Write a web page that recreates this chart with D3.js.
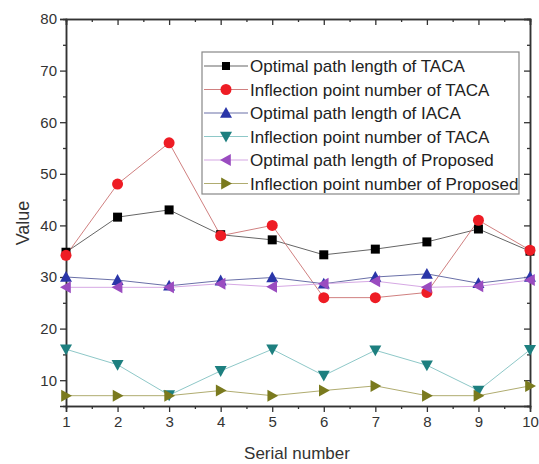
<!DOCTYPE html>
<html>
<head>
<meta charset="utf-8">
<script src="https://cdn.jsdelivr.net/npm/d3@7"></script>
<style>
  body { margin: 0; background: white; }
  text { font-family: "Liberation Sans", Arial, sans-serif; }
</style>
</head>
<body>
<div id="chart"></div>
<script>
// Data
const serial = [1, 2, 3, 4, 5, 6, 7, 8, 9, 10];
const pathTACA = [34.8, 41.6, 43, 38.2, 37.2, 34.3, 35.4, 36.8, 39.3, 35];
const inflTACA = [34.2, 48, 56, 38, 40, 26, 26, 27, 41, 35.2];
const pathIACA = [30, 29.4, 28.3, 29.3, 29.9, 28.7, 30, 30.6, 28.8, 30];
const inflTACA2 = [16, 13, 7.1, 11.8, 16, 10.9, 15.8, 12.9, 8, 15.9];
const pathProposed = [28, 28, 28, 28.7, 28.1, 28.7, 29.2, 28, 28.2, 29.4];
const inflProposed = [7, 7, 7, 8, 7, 8, 8.9, 7, 7, 8.9];
const seriesNames = [
    'Optimal path length of TACA',
    'Inflection point number of TACA',
    'Optimal path length of IACA',
    'Inflection point number of TACA',
    'Optimal path length of Proposed',
    'Inflection point number of Proposed'
];
const yTicks = [10, 20, 30, 40, 50, 60, 70, 80];

let width = 539,
    height = 464;

let margin = { top: 19, bottom: 58, left: 66, right: 9 };

let svg = d3.select('#chart')
            .append('svg')
            .attr('width', width)
            .attr('height', height)
            .style('background', 'white');

let xScale = d3.scaleLinear()
            .domain([1, 10])
            .range([margin.left, width - margin.right]);

let yScale = d3.scaleLinear()
            .domain([5, 80])
            .range([height - margin.bottom, margin.top]);

const series = [
    { values: pathTACA, fill: '#000000', line: '#666666', shape: 'square' },
    { values: inflTACA, fill: '#ee1c24', line: '#d08080', shape: 'circle' },
    { values: pathIACA, fill: '#2a35a8', line: '#6a70a8', shape: 'up' },
    { values: inflTACA2, fill: '#1d7f7f', line: '#8ec8c8', shape: 'down' },
    { values: pathProposed, fill: '#9a4cc0', line: '#d6a8e4', shape: 'left' },
    { values: inflProposed, fill: '#7a7a1e', line: '#b0ac70', shape: 'right' }
];

function symbolPath(shape) {
    const s = 6;
    if (shape === 'square') return `M${-4.5},${-4.5}h9v9h-9z`;
    if (shape === 'circle') return d3.symbol(d3.symbolCircle, 95)();
    if (shape === 'up') return `M0,${-s}L${s},${s * 0.8}L${-s},${s * 0.8}Z`;
    if (shape === 'down') return `M0,${s}L${s},${-s * 0.8}L${-s},${-s * 0.8}Z`;
    if (shape === 'left') return `M${-s},0L${s * 0.8},${-s}L${s * 0.8},${s}Z`;
    return `M${s},0L${-s * 0.8},${-s}L${-s * 0.8},${s}Z`;
}

// Axes (left and bottom, ticks outward)
let yAxis = svg.append('g')
            .attr('transform', `translate(${margin.left},0)`)
            .call(d3.axisLeft(yScale).tickValues(yTicks).tickSize(6).tickPadding(3));

let yMinor = svg.append('g')
            .attr('transform', `translate(${margin.left},0)`)
            .call(d3.axisLeft(yScale).tickValues(d3.range(15, 80, 10)).tickSize(3).tickFormat(''));

let xAxis = svg.append('g')
            .attr('transform', `translate(0,${height - margin.bottom})`)
            .call(d3.axisBottom(xScale).tickValues(serial).tickSize(6).tickPadding(4).tickFormat(d3.format('d')));

let xMinor = svg.append('g')
            .attr('transform', `translate(0,${height - margin.bottom})`)
            .call(d3.axisBottom(xScale).tickValues(d3.range(1.5, 10, 1)).tickSize(3).tickFormat(''));

// Mirrored top and right axes (ticks inward)
let topAxis = svg.append('g')
            .attr('transform', `translate(0,${margin.top})`)
            .call(d3.axisBottom(xScale).tickValues(serial).tickSize(6).tickFormat(''));
svg.append('g')
    .attr('transform', `translate(0,${margin.top})`)
    .call(d3.axisBottom(xScale).tickValues(d3.range(1.5, 10, 1)).tickSize(3).tickFormat(''));

let rightAxis = svg.append('g')
            .attr('transform', `translate(${width - margin.right},0)`)
            .call(d3.axisLeft(yScale).tickValues(yTicks).tickSize(6).tickFormat(''));
svg.append('g')
    .attr('transform', `translate(${width - margin.right},0)`)
    .call(d3.axisLeft(yScale).tickValues(d3.range(15, 80, 10)).tickSize(3).tickFormat(''));

svg.selectAll('.domain').attr('stroke', '#333').attr('stroke-width', 1.5);
svg.selectAll('.tick line').attr('stroke', '#333').attr('stroke-width', 1.3);
svg.selectAll('.tick text')
    .style('font-size', '15px')
    .attr('fill', '#333');

// Lines and markers
const line = d3.line()
            .x((d, i) => xScale(serial[i]))
            .y(d => yScale(d));

series.forEach(function(s) {
    svg.append('path')
        .datum(s.values)
        .attr('d', line)
        .attr('fill', 'none')
        .attr('stroke', s.line)
        .attr('stroke-width', 1);
});

series.forEach(function(s) {
    svg.selectAll(null)
        .data(s.values)
        .enter()
        .append('path')
        .attr('d', symbolPath(s.shape))
        .attr('transform', (d, i) => `translate(${xScale(serial[i])},${yScale(d)})`)
        .attr('fill', s.fill);
});

// Legend
const legend = svg.append('g').attr('transform', 'translate(202,52)');

legend.append('rect')
    .attr('width', 317)
    .attr('height', 142)
    .attr('fill', 'white')
    .attr('stroke', '#888')
    .attr('stroke-width', 1.2);

const legendRow = legend.selectAll('.legend')
            .data(series)
            .enter().append('g')
            .attr('class', 'legend')
            .attr('transform', (d, i) => `translate(0,${14 + i * 23.5})`);

legendRow.append('line')
    .attr('x1', 2).attr('x2', 46)
    .attr('stroke', d => d.line)
    .attr('stroke-width', 1.2);

legendRow.append('path')
    .attr('d', d => d.shape === 'square' ? 'M-4,-4h8v8h-8z' : symbolPath(d.shape))
    .attr('transform', 'translate(24,0)')
    .attr('fill', d => d.fill);

legendRow.append('text')
    .attr('x', 48)
    .attr('y', 6)
    .style('font-size', '17px')
    .attr('fill', '#222')
    .text((d, i) => seriesNames[i]);

// Axis labels
svg.append('text')
    .attr('x', 297)
    .attr('y', 459)
    .text('Serial number')
    .style('text-anchor', 'middle')
    .style('font-size', '17px')
    .attr('fill', '#333');

svg.append('text')
    .attr('x', -223)
    .attr('y', 29)
    .text('Value')
    .style('text-anchor', 'middle')
    .style('font-size', '18px')
    .attr('fill', '#333')
    .attr('transform', 'rotate(-90)');
</script>
</body>
</html>
